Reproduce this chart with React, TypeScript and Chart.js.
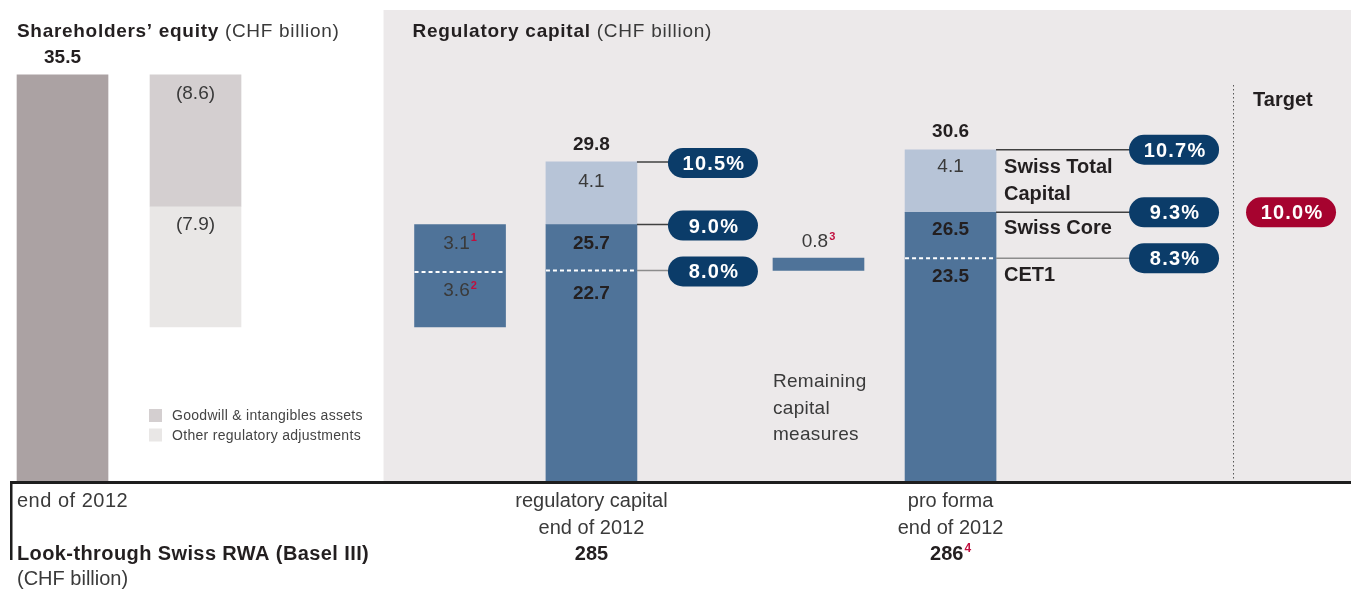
import React, { useEffect, useRef } from 'react';
import { Chart, registerables } from 'chart.js';

Chart.register(...registerables);

const W = 1351;
const H = 590;
const FONT = "'Liberation Sans', Arial, Helvetica, sans-serif";

// ---------------- data ----------------
const shareholdersEquity = 35.5;
const deductionNames = ['Goodwill & intangibles assets', 'Other regulatory adjustments'];
const deductionValues = [8.6, 7.9];
const phaseInValues = [3.6, 3.1]; // bottom -> top
const phaseInNotes = ['2', '1'];
const capitalTiers = ['CET1', 'Swiss Core', 'Swiss Total', 'Capital'];
const regCapitalLevels = [22.7, 25.7, 29.8]; // CET1, Swiss Core, Swiss Total Capital
const regCapitalRatios = [8.0, 9.0, 10.5];
const remainingMeasures = 0.8;
const remainingNote = '3';
const remainingLabel = ['Remaining', 'capital', 'measures'];
const proFormaLevels = [23.5, 26.5, 30.6];
const proFormaRatios = [8.3, 9.3, 10.7];
const targetRatio = 10.0;
const rwaValues = [285, 286];
const rwaNotes = ['', '4'];
const startLabel = ['end of 2012'];
const regLabel = ['regulatory capital', 'end of 2012'];
const proFormaLabel = ['pro forma', 'end of 2012'];

// ---------------- layout (x in bar-pitch units) ----------------
const PITCH = 133;
const POS = { equity: 0.47, deduct: 1.47, phaseIn: 3.459, reg: 4.447, remaining: 6.154, proForma: 7.147, target: 9.707 };
const Y_MIN = 8.85;
const Y_MAX = 40.4;
const BAR_W = 91;

const C = {
  equity: '#ABA2A3',
  goodwill: '#D4CFD0',
  other: '#E9E7E6',
  blue: '#4F7399',
  light: '#B7C4D7',
  navy: '#0B3C69',
  red: '#A6032F',
  panel: '#ECE9EA',
  text: '#3A3A3A',
  bold: '#231F20',
  note: '#C0103F',
};

// derived
const goodwillRange = [shareholdersEquity - deductionValues[0], shareholdersEquity];
const afterDeductions = goodwillRange[0] - deductionValues[1];
const otherRange = [afterDeductions, goodwillRange[0]];
const phaseInMid = afterDeductions + phaseInValues[0];
const phaseInTop = phaseInMid + phaseInValues[1];
const fmt = (v: number) => v.toFixed(1);
const pct = (v: number) => v.toFixed(1) + '%';

type TO = { size: number; bold?: boolean; color?: string; align?: CanvasTextAlign; ls?: number };
function txt(ctx: CanvasRenderingContext2D, s: string, x: number, y: number, o: TO) {
  ctx.save();
  ctx.font = `${o.bold ? 'bold ' : ''}${o.size}px ${FONT}`;
  ctx.fillStyle = o.color || C.text;
  ctx.textAlign = o.align || 'left';
  ctx.textBaseline = 'alphabetic';
  (ctx as any).letterSpacing = (o.ls || 0) + 'px';
  ctx.fillText(s, x, y);
  const w = ctx.measureText(s).width;
  ctx.restore();
  return w;
}
function measure(ctx: CanvasRenderingContext2D, s: string, size: number, bold?: boolean) {
  ctx.save();
  ctx.font = `${bold ? 'bold ' : ''}${size}px ${FONT}`;
  const w = ctx.measureText(s).width;
  ctx.restore();
  return w;
}
function supText(ctx: CanvasRenderingContext2D, s: string, note: string, cx: number, y: number, size: number, bold: boolean, color: string) {
  const w = measure(ctx, s, size, bold);
  const sw = note ? measure(ctx, note, Math.round(size * 0.6), true) + 1 : 0;
  const x0 = cx - (w + sw) / 2;
  txt(ctx, s, x0, y, { size, bold, color });
  if (note) txt(ctx, note, x0 + w + 1, y - size * 0.38, { size: Math.round(size * 0.6), bold: true, color: C.note });
}
function pill(ctx: CanvasRenderingContext2D, label: string, left: number, cy: number, color: string) {
  ctx.save();
  ctx.fillStyle = color;
  ctx.beginPath();
  (ctx as any).roundRect(left, cy - 15, 90, 30, 15);
  ctx.fill();
  ctx.restore();
  txt(ctx, label, left + 46, cy + 7, { size: 20, bold: true, color: '#FFFFFF', align: 'center', ls: 1.2 });
}
function hline(ctx: CanvasRenderingContext2D, x1: number, x2: number, y: number, color: string, width: number, dash: number[] = []) {
  ctx.save();
  ctx.strokeStyle = color;
  ctx.lineWidth = width;
  ctx.setLineDash(dash);
  ctx.beginPath();
  ctx.moveTo(x1, y);
  ctx.lineTo(x2, y);
  ctx.stroke();
  ctx.restore();
}

const decorPlugin = {
  id: 'decor',
  beforeDatasetsDraw(chart: any) {
    const { ctx, chartArea } = chart;
    const xs = chart.scales.x;
    const left = xs.getPixelForValue(POS.phaseIn) - BAR_W / 2 - 31;
    ctx.save();
    ctx.fillStyle = C.panel;
    ctx.fillRect(left, 10, chartArea.right - left, chartArea.bottom - 10);
    ctx.restore();
  },
  afterDatasetsDraw(chart: any) {
    const { ctx, chartArea } = chart;
    const xs = chart.scales.x;
    const ys = chart.scales.y;
    const px = (v: number) => xs.getPixelForValue(v);
    const py = (v: number) => ys.getPixelForValue(v);
    const half = BAR_W / 2;
    const bottom = chartArea.bottom;

    // titles
    let w = txt(ctx, 'Shareholders’ equity', 17, 37, { size: 19, bold: true, color: C.bold, ls: 0.7 });
    txt(ctx, ' (CHF billion)', 17 + w, 37, { size: 19, ls: 0.7 });
    const panelTextX = px(POS.phaseIn) - half - 2;
    w = txt(ctx, 'Regulatory capital', panelTextX, 37, { size: 19, bold: true, color: C.bold, ls: 0.75 });
    txt(ctx, ' (CHF billion)', panelTextX + w, 37, { size: 19, ls: 0.75 });

    // equity
    txt(ctx, fmt(shareholdersEquity), px(POS.equity), py(shareholdersEquity) - 12, { size: 19, bold: true, color: C.bold, align: 'center' });
    // deductions
    txt(ctx, `(${fmt(deductionValues[0])})`, px(POS.deduct), py(goodwillRange[1]) + 24, { size: 19, align: 'center' });
    txt(ctx, `(${fmt(deductionValues[1])})`, px(POS.deduct), py(otherRange[1]) + 24, { size: 19, align: 'center' });

    // phase-in bar
    const pX = px(POS.phaseIn);
    hline(ctx, pX - half, pX + half, py(phaseInMid), '#FFFFFF', 2, [4, 3]);
    supText(ctx, fmt(phaseInValues[1]), phaseInNotes[1], pX, py(phaseInTop) + 24, 19, false, C.text);
    supText(ctx, fmt(phaseInValues[0]), phaseInNotes[0], pX, py(phaseInMid) + 24, 19, false, C.text);

    // regulatory capital bar
    const rX = px(POS.reg);
    hline(ctx, rX - half, rX + half, py(regCapitalLevels[0]), '#FFFFFF', 2, [4, 3]);
    txt(ctx, fmt(regCapitalLevels[2]), rX, py(regCapitalLevels[2]) - 12, { size: 19, bold: true, color: C.bold, align: 'center' });
    txt(ctx, fmt(regCapitalLevels[2] - regCapitalLevels[1]), rX, py(regCapitalLevels[2]) + 25, { size: 19, align: 'center' });
    txt(ctx, fmt(regCapitalLevels[1]), rX, py(regCapitalLevels[1]) + 24, { size: 19, bold: true, color: C.bold, align: 'center' });
    txt(ctx, fmt(regCapitalLevels[0]), rX, py(regCapitalLevels[0]) + 29, { size: 19, bold: true, color: C.bold, align: 'center' });
    for (let i = 0; i < 3; i++) {
      const ly = py(regCapitalLevels[i]);
      const pl = rX + half + 31;
      hline(ctx, rX + half, pl + 2, ly, i === 0 ? '#8C8C8C' : '#404040', 1.5);
      pill(ctx, pct(regCapitalRatios[i]), pl, ly + 1, C.navy);
    }

    // remaining measures
    const mX = px(POS.remaining);
    supText(ctx, fmt(remainingMeasures), remainingNote, mX, py(regCapitalLevels[0] + remainingMeasures) - 11, 19, false, C.text);
    remainingLabel.forEach((s, i) => txt(ctx, s, mX - half, 387 + i * 26.5, { size: 19, ls: 0.3 }));

    // pro forma bar
    const fX = px(POS.proForma);
    hline(ctx, fX - half, fX + half, py(proFormaLevels[0]), '#FFFFFF', 2, [4, 3]);
    txt(ctx, fmt(proFormaLevels[2]), fX, py(proFormaLevels[2]) - 13, { size: 19, bold: true, color: C.bold, align: 'center' });
    txt(ctx, fmt(proFormaLevels[2] - proFormaLevels[1]), fX, py(proFormaLevels[2]) + 22, { size: 19, align: 'center' });
    txt(ctx, fmt(proFormaLevels[1]), fX, py(proFormaLevels[1]) + 23, { size: 19, bold: true, color: C.bold, align: 'center' });
    txt(ctx, fmt(proFormaLevels[0]), fX, py(proFormaLevels[0]) + 24, { size: 19, bold: true, color: C.bold, align: 'center' });
    for (let i = 0; i < 3; i++) {
      const ly = py(proFormaLevels[i]);
      const pl = fX + half + 133;
      hline(ctx, fX + half, pl + 2, ly, i === 0 ? '#8C8C8C' : '#404040', 1.5);
      pill(ctx, pct(proFormaRatios[i]), pl, ly, C.navy);
    }
    const tx = fX + half + 8;
    txt(ctx, capitalTiers[2], tx, py(proFormaLevels[2]) + 23, { size: 20, bold: true, color: C.bold });
    txt(ctx, capitalTiers[3], tx, py(proFormaLevels[2]) + 50, { size: 20, bold: true, color: C.bold });
    txt(ctx, capitalTiers[1], tx, py(proFormaLevels[1]) + 22, { size: 20, bold: true, color: C.bold });
    txt(ctx, capitalTiers[0], tx, py(proFormaLevels[0]) + 23, { size: 20, bold: true, color: C.bold });

    // target
    const tX = px(POS.target);
    ctx.save();
    ctx.strokeStyle = '#555555';
    ctx.lineWidth = 1;
    ctx.setLineDash([1.5, 2.5]);
    ctx.beginPath();
    ctx.moveTo(tX - 57.5, 85);
    ctx.lineTo(tX - 57.5, bottom);
    ctx.stroke();
    ctx.restore();
    txt(ctx, 'Target', tX - 38, 106, { size: 20, bold: true, color: C.bold });
    pill(ctx, pct(targetRatio), tX - 45, py(proFormaLevels[1]), C.red);

    // legend
    const lx = px(POS.deduct) - half - 1;
    [C.goodwill, C.other].forEach((col, i) => {
      ctx.save();
      ctx.fillStyle = col;
      ctx.fillRect(lx, 409 + i * 19.5, 13, 13);
      ctx.restore();
      txt(ctx, deductionNames[i], lx + 23, 420 + i * 20, { size: 14, color: '#444444', ls: 0.3 });
    });

    // base line
    ctx.save();
    ctx.fillStyle = '#1E1E1E';
    ctx.fillRect(10, bottom - 1, W - 10, 3);
    ctx.fillRect(10, bottom - 1, 2.5, 79);
    ctx.restore();

    // category labels
    txt(ctx, startLabel[0], 17, bottom + 25, { size: 20, ls: 0.5 });
    regLabel.forEach((s, i) => txt(ctx, s, rX, bottom + 25 + i * 27, { size: 20, align: 'center' }));
    proFormaLabel.forEach((s, i) => txt(ctx, s, fX, bottom + 25 + i * 27, { size: 20, align: 'center' }));
    supText(ctx, String(rwaValues[0]), rwaNotes[0], rX, bottom + 78, 20, true, C.bold);
    supText(ctx, String(rwaValues[1]), rwaNotes[1], fX, bottom + 78, 20, true, C.bold);
    txt(ctx, 'Look-through Swiss RWA (Basel III)', 17, bottom + 78, { size: 20, bold: true, color: C.bold, ls: 0.4 });
    txt(ctx, '(CHF billion)', 17, bottom + 103, { size: 20 });
  },
};

export default function App() {
  const ref = useRef<HTMLCanvasElement | null>(null);
  useEffect(() => {
    if (!ref.current) return;
    const chart = new Chart(ref.current, {
      type: 'bar',
      data: {
        datasets: [
          { label: 'Shareholders’ equity', backgroundColor: C.equity, data: [{ x: POS.equity, y: [0, shareholdersEquity] }] as any },
          { label: deductionNames[0], backgroundColor: C.goodwill, data: [{ x: POS.deduct, y: goodwillRange }] as any },
          { label: deductionNames[1], backgroundColor: C.other, data: [{ x: POS.deduct, y: otherRange }] as any },
          {
            label: 'Core capital',
            backgroundColor: C.blue,
            data: [
              { x: POS.phaseIn, y: [afterDeductions, phaseInTop] },
              { x: POS.reg, y: [0, regCapitalLevels[1]] },
              { x: POS.remaining, y: [regCapitalLevels[0], regCapitalLevels[0] + remainingMeasures] },
              { x: POS.proForma, y: [0, proFormaLevels[1]] },
            ] as any,
          },
          {
            label: 'Tier 2 capital',
            backgroundColor: C.light,
            data: [
              { x: POS.reg, y: [regCapitalLevels[1], regCapitalLevels[2]] },
              { x: POS.proForma, y: [proFormaLevels[1], proFormaLevels[2]] },
            ] as any,
          },
        ],
      },
      options: {
        responsive: false,
        animation: false,
        devicePixelRatio: 1,
        layout: { padding: { left: 0, right: 0, top: 0, bottom: H - 482 } },
        datasets: { bar: { grouped: false, barThickness: BAR_W, borderWidth: 0 } as any },
        plugins: { legend: { display: false }, tooltip: { enabled: false } },
        scales: {
          x: { type: 'linear', min: 0, max: W / PITCH, offset: false, display: false },
          y: { type: 'linear', min: Y_MIN, max: Y_MAX, display: false },
        },
      },
      plugins: [decorPlugin],
    });
    return () => chart.destroy();
  }, []);
  return (
    <div style={{ position: 'fixed', left: 0, top: 0, width: W, height: H, background: '#FFFFFF' }}>
      <canvas ref={ref} width={W} height={H} style={{ display: 'block', width: W, height: H }} />
    </div>
  );
}
